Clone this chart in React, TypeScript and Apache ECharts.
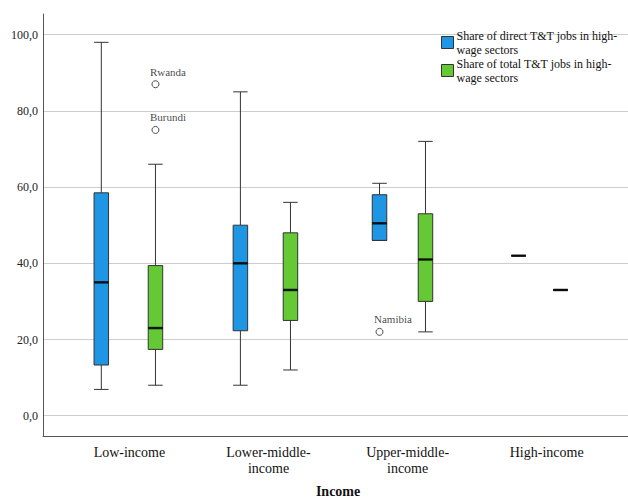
import React, { useEffect, useRef } from "react";
import * as echarts from "echarts";

const categories = ["Low-income", "Lower-middle-\nincome", "Upper-middle-\nincome", "High-income"];
const yTicks = [0, 20, 40, 60, 80, 100];
// [min, Q1, median, Q3, max]
const directBox = [
  [6.9, 13.3, 35, 58.5, 98],
  [8, 22.3, 40, 50, 85],
  [46, 46, 50.5, 58, 61],
  [42, 42, 42, 42, 42],
];
const totalBox = [
  [8, 17.4, 23, 39.4, 66],
  [12, 25, 33, 48, 56],
  [22, 30, 41, 53, 72],
  [33, 33, 33, 33, 33],
];
const directOutliers = [{ cat: 2, value: 22, name: "Namibia" }];
const totalOutliers = [
  { cat: 0, value: 87, name: "Rwanda" },
  { cat: 0, value: 75, name: "Burundi" },
];
const seriesNames = [
  "Share of direct T&T jobs in high-\nwage sectors",
  "Share of total T&T jobs in high-\nwage sectors",
];

const BLUE = "#1F96E3";
const GREEN = "#64C934";
const FONT = "'Liberation Serif', 'Times New Roman', Times, serif";

export default function App() {
  const ref = useRef<HTMLDivElement>(null);
  useEffect(() => {
    if (!ref.current) return;
    const chart = echarts.init(ref.current, null, { renderer: "svg" });
    const plotTop = 34.7;
    const plotH = 381;
    const bandW = 139.1;
    const fullW = bandW * 4;
    const hiddenVal = (gi: number) => ({
      type: "value",
      gridIndex: gi,
      min: 0,
      max: 100,
      show: false,
    });
    const hiddenCat = (gi: number) => ({
      type: "category",
      gridIndex: gi,
      data: categories,
      show: false,
    });
    const outlierSeries = (
      list: { cat: number; value: number; name: string }[],
      axis: number
    ) => ({
      type: "scatter",
      xAxisIndex: axis,
      yAxisIndex: axis,
      symbol: "circle",
      symbolSize: 7,
      z: 5,
      itemStyle: { color: "#fff", borderColor: "#222", borderWidth: 1 },
      label: {
        show: true,
        formatter: (p: any) => p.data.label,
        position: [-1.5, -8.5],
        align: "left",
        verticalAlign: "middle",
        fontFamily: FONT,
        fontSize: 11,
        color: "#111",
      },
      data: list.map((o) => ({ value: [o.cat, o.value], label: o.name })),
    });
    const medianSeries = (box: number[][], axis: number) => ({
      type: "scatter",
      xAxisIndex: axis,
      yAxisIndex: axis,
      symbol: "rect",
      symbolSize: [14.5, 2.5],
      z: 6,
      itemStyle: { color: "#000" },
      data: box.map((b, i) => [i, b[2]]),
    });
    const boxSeries = (name: string, box: number[][], axis: number, color: string) => ({
      type: "boxplot",
      name,
      xAxisIndex: axis,
      yAxisIndex: axis,
      boxWidth: [14.5, 14.5],
      itemStyle: { color, borderColor: "#333", borderWidth: 1 },
      data: box,
    });

    chart.setOption({
      animation: false,
      backgroundColor: "#fff",
      legend: {
        orient: "vertical",
        left: 436,
        top: 23.5,
        itemWidth: 12,
        itemHeight: 12,
        itemGap: 0,
        icon: "rect",
        textStyle: { fontFamily: FONT, fontSize: 12, lineHeight: 14, color: "#111", padding: [0, 0, 0, -2] },
        data: [
          { name: seriesNames[0], itemStyle: { color: BLUE, borderColor: "#333", borderWidth: 1 } },
          { name: seriesNames[1], itemStyle: { color: GREEN, borderColor: "#333", borderWidth: 1 } },
        ],
      },
      grid: [
        { left: 43, right: 0, top: plotTop, height: plotH },
        { left: 43, right: 0, top: 14, height: 422 },
        { left: 129.4 - bandW / 2, width: fullW, top: 14, height: 422 },
        { left: 101.3 - bandW / 2, width: fullW, top: plotTop, height: plotH },
        { left: 157.5 - bandW / 2, width: fullW, top: plotTop, height: plotH },
      ],
      xAxis: [
        { type: "value", gridIndex: 0, show: false, min: 0, max: 1 },
        {
          type: "value",
          gridIndex: 1,
          min: 0,
          max: 1,
          axisLine: { show: true, lineStyle: { color: "#555", width: 1 } },
          axisTick: { show: false },
          axisLabel: { show: false },
          splitLine: { show: false },
        },
        {
          type: "category",
          gridIndex: 2,
          data: categories,
          axisLine: { show: false },
          axisTick: { show: false },
          axisLabel: {
            margin: 9,
            fontFamily: FONT,
            fontSize: 14,
            lineHeight: 16,
            color: "#111",
            interval: 0,
          },
          name: "Income",
          nameLocation: "middle",
          nameGap: 49,
          nameTextStyle: { fontFamily: FONT, fontSize: 14, fontWeight: "bold", color: "#111" },
        },
        hiddenCat(3),
        hiddenCat(4),
      ],
      yAxis: [
        {
          type: "value",
          gridIndex: 0,
          min: 0,
          max: 100,
          interval: 20,
          axisLine: { show: false },
          axisTick: { show: false },
          axisLabel: {
            margin: 5,
            fontFamily: FONT,
            fontSize: 12,
            color: "#222",
            formatter: (v: number) => (yTicks.includes(v) ? v.toFixed(1).replace(".", ",") : ""),
          },
          splitLine: { show: true, lineStyle: { color: "#cdcdcd", width: 1 } },
        },
        {
          type: "value",
          gridIndex: 1,
          min: 0,
          max: 1,
          axisLine: { show: true, lineStyle: { color: "#555", width: 1 } },
          axisTick: { show: false },
          axisLabel: { show: false },
          splitLine: { show: false },
        },
        { type: "value", gridIndex: 2, show: false, min: 0, max: 1 },
        hiddenVal(3),
        hiddenVal(4),
      ],
      series: [
        boxSeries(seriesNames[0], directBox, 3, BLUE),
        boxSeries(seriesNames[1], totalBox, 4, GREEN),
        medianSeries(directBox, 3),
        medianSeries(totalBox, 4),
        outlierSeries(directOutliers, 3),
        outlierSeries(totalOutliers, 4),
      ],
    });
    return () => chart.dispose();
  }, []);
  return (
    <div
      ref={ref}
      style={{ position: "absolute", left: 0, top: 0, width: 628, height: 503 }}
    />
  );
}
